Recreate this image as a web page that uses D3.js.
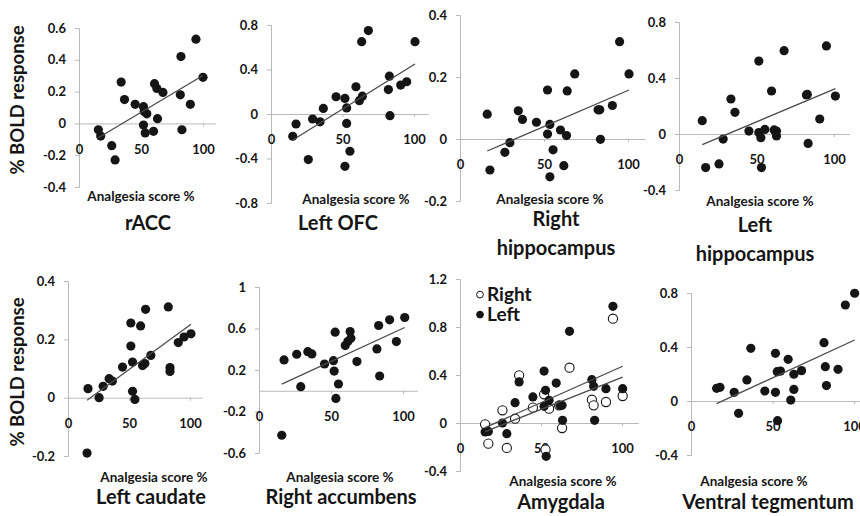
<!DOCTYPE html>
<html>
<head>
<meta charset="utf-8">
<script src="https://cdn.jsdelivr.net/npm/d3@7"></script>
<style>
  body { margin: 0; background: #fff; }
  svg { font-family: Lato, "Open Sans", sans-serif; font-weight: bold; }
</style>
</head>
<body>
<svg id="chart" width="860" height="516"></svg>
<script>
(function() {

  // x values: analgesia score %, y values: % BOLD response
  var xTicks = [0, 50, 100];

  var raccTicks = [-0.4, -0.2, 0, 0.2, 0.4, 0.6];
  var raccData = [[15.6,-0.04],[17.5,-0.08],[26.4,-0.14],[29.1,-0.23],[34,0.26],[36.7,0.15],[45.3,0.12],
    [52,0.105],[52.6,0.075],[54.7,0.06],[52,-0.01],[53.4,-0.06],[60.1,-0.05],[60.9,0.25],[62.8,0.22],
    [67.7,0.195],[63.3,0.03],[81.7,0.18],[82.2,0.42],[83,-0.04],[89.8,0.12],[94.3,0.53],[100,0.29]];

  var ofcTicks = [-0.8, -0.4, 0, 0.4, 0.8];
  var ofcData = [[15.2,-0.2],[17.5,-0.09],[26.1,-0.41],[29.1,-0.045],[34.3,-0.07],[36.6,0.05],[45.5,0.155],
    [51.7,0.14],[52.9,0.055],[52.9,-0.085],[51.7,-0.47],[55.2,-0.335],[59.4,0.245],[61.8,0.12],[63.4,0.65],
    [63.9,0.16],[68.1,0.75],[82.1,0.22],[82.8,0.34],[83.2,-0.015],[90.7,0.26],[94.9,0.29],[100.7,0.65]];

  var rHippoTicks = [-0.2, 0, 0.2, 0.4];
  var rHippoData = [[16.2,0.08],[17.8,-0.1],[26.7,-0.043],[29.7,-0.012],[34.7,0.091],[37.2,0.063],[45.5,0.054],
    [52.1,0.158],[52.1,0.016],[53.5,0.047],[53.5,-0.122],[55.4,-0.035],[59.8,0.029],[61.8,-0.086],[63.4,0.011],
    [63.8,0.155],[68.3,0.21],[82.2,0.094],[83.2,0.094],[83.6,-0.001],[90.7,0.108],[95,0.314],[100.6,0.21]];

  var lHippoTicks = [-0.4, 0, 0.4, 0.8];
  var lHippoData = [[15,0.095],[17.2,-0.24],[25.8,-0.214],[28.5,-0.036],[33.5,0.25],[36.1,0.155],[45.1,0.021],
    [51.5,0.521],[51.5,0.01],[52.8,-0.026],[53.2,-0.24],[55.4,0.033],[59.7,0.307],[61.4,0.029],[62.9,0.021],
    [62.9,-0.014],[67.8,0.595],[82.2,0.279],[82.8,0.283],[83.3,-0.067],[90.8,0.107],[95.1,0.629],[100.9,0.271]];

  var caudateTicks = [-0.2, 0, 0.2, 0.4];
  var caudateData = [[16.4,0.031],[15.6,-0.19],[25.5,0],[28.8,0.039],[33.7,0.065],[36.4,0.057],[44.7,0.105],
    [51.5,0.256],[51.5,0.177],[52.9,0.122],[52.9,0.022],[54.8,-0.006],[59.5,0.246],[61.1,0.11],[63,0.117],
    [63.6,0.303],[67.9,0.145],[82.2,0.311],[83.6,0.09],[83.6,0.103],[90.4,0.189],[95.1,0.208],[100.8,0.219]];

  var accTicks = [-0.6, -0.2, 0.2, 0.6, 1];
  var accData = [[17.4,0.297],[15.8,-0.429],[26.2,0.352],[29,0.039],[33.9,0.377],[36.7,0.355],[45.5,0.258],
    [51.7,0.29],[52.2,0.19],[52.9,0.565],[55.2,0.065],[53.4,-0.074],[59.9,0.435],[61.7,0.474],[63.3,0.571],
    [63.8,0.506],[68,0.281],[81.9,0.403],[83.1,0.629],[83.8,0.142],[90.7,0.684],[95.4,0.474],[101.2,0.706]];

  var amygTicks = [-0.4, 0, 0.4, 0.8, 1.2];
  var amygSeries = ["Right", "Left"];
  var amygRight = [[15.5,-0.011],[17.5,-0.172],[26.2,0.106],[28.9,-0.208],[34,0.036],[36.5,0.397],[45,0.128],
    [51.9,0.239],[52.8,-0.222],[55,0.119],[61.2,0.147],[63,-0.042],[67.6,0.461],[81.4,0.194],[82.5,0.147],
    [90.1,0.175],[94.4,0.869],[100.4,0.225]];
  var amygLeft = [[15.5,-0.075],[17.5,-0.07],[26.2,0],[28.9,-0.089],[34,0.169],[36.5,0.342],[45,0.217],
    [51.9,0.433],[52.8,0.272],[51.9,0.139],[55,0.189],[53.2,-0.278],[59.4,0.333],[61.8,0.147],[63,0.147],
    [63.3,0.022],[67.6,0.764],[81.4,0.361],[82.5,0.306],[83.1,0.022],[90.1,0.286],[94.4,0.972],[100.4,0.286]];

  var vtaTicks = [-0.4, 0, 0.4, 0.8];
  var vtaData = [[15.7,0.094],[17.8,0.101],[26.5,0.064],[29.2,-0.091],[34.3,0.156],[36.7,0.39],[45.3,0.074],
    [51.8,0.353],[51.8,0.064],[52.9,0.217],[54.9,0.222],[53.1,-0.146],[59.6,0.309],[61.2,0.007],[63.1,0.198],
    [63.1,0.086],[67.8,0.225],[81.6,0.432],[82.4,0.254],[83.1,0.114],[90.2,0.235],[94.7,0.711],[100.4,0.798]];

  var xLabel = "Analgesia score %";
  var yLabel = "% BOLD response";

  // layout of each small chart, in pixels
  var panels = [
    { title: ["rACC"], series: [raccData], ticks: raccTicks, x0: 79, x100: 203, top: 28, bottom: 187,
      tx: 148, ty: 230, lx: 141, ly: 201, yTitle: 100 },
    { title: ["Left OFC"], series: [ofcData], ticks: ofcTicks, x0: 271, x100: 414, top: 25, bottom: 203,
      tx: 338, ty: 230, lx: 356, ly: 204 },
    { title: ["Right", "hippocampus"], series: [rHippoData], ticks: rHippoTicks, x0: 460, x100: 628, top: 15, bottom: 201,
      tx: 556, ty: 226, lx: 550, ly: 204 },
    { title: ["Left", "hippocampus"], series: [lHippoData], ticks: lHippoTicks, x0: 679, x100: 834, top: 22, bottom: 190,
      tx: 755, ty: 232, lx: 760, ly: 206 },
    { title: ["Left caudate"], series: [caudateData], ticks: caudateTicks, x0: 68, x100: 190, top: 281, bottom: 456,
      tx: 151, ty: 504, lx: 154, ly: 482, yTitle: 372 },
    { title: ["Right accumbens"], series: [accData], ticks: accTicks, x0: 259, x100: 403, top: 287, bottom: 453,
      tx: 341, ty: 504, lx: 340, ly: 482 },
    { title: ["Amygdala"], series: [amygRight, amygLeft], names: amygSeries, ticks: amygTicks, x0: 460, x100: 622,
      top: 279, bottom: 471, tx: 561, ty: 509, lx: 563, ly: 486 },
    { title: ["Ventral tegmentum"], series: [vtaData], ticks: vtaTicks, x0: 691, x100: 854, top: 293, bottom: 455,
      tx: 768, ty: 509, lx: 754, ly: 486 }
  ];

  var axisColor = "#b9b9b9",
      ink = "#151515";

  var fmt = function(d) { return String(+d.toFixed(1)); };

  function trend(pts) {
    var mx = d3.mean(pts, function(d) { return d[0]; }),
        my = d3.mean(pts, function(d) { return d[1]; });
    var sxy = d3.sum(pts, function(d) { return (d[0] - mx) * (d[1] - my); }),
        sxx = d3.sum(pts, function(d) { return (d[0] - mx) * (d[0] - mx); });
    var b = sxy / sxx, a = my - b * mx;
    return d3.extent(pts, function(d) { return d[0]; }).map(function(x) { return [x, a + b * x]; });
  }

  var svg = d3.select('#chart');

  panels.forEach(function(p) {
    var xScale = d3.scaleLinear()
        .domain([0, 110])
        .range([p.x0, p.x0 + 1.1 * (p.x100 - p.x0)]);

    var yScale = d3.scaleLinear()
        .domain(d3.extent(p.ticks))
        .range([p.bottom, p.top]);

    var g = svg.append('g');

    // y axis
    var yAxis = g.append('g')
        .attr('transform', 'translate(' + p.x0 + ',0)')
        .call(d3.axisLeft(yScale)
          .tickValues(p.ticks)
          .tickSize(4)
          .tickPadding(9)
          .tickFormat(fmt));

    // x axis at zero
    var xAxis = g.append('g')
        .attr('transform', 'translate(0,' + yScale(0) + ')')
        .call(d3.axisBottom(xScale)
          .tickValues(xTicks)
          .tickSize(3)
          .tickSizeOuter(0)
          .tickPadding(18)
          .tickFormat(fmt));

    g.selectAll('.domain, .tick line').attr('stroke', axisColor);
    g.selectAll('.tick text')
        .attr('fill', ink)
        .attr('font-size', 13)
        .attr('font-family', 'Lato')
        .attr('font-weight', 'bold');
    yAxis.attr('font-size', null).attr('font-family', null);
    xAxis.attr('font-size', null).attr('font-family', null);

    // dots, open series drawn first
    p.series.forEach(function(pts, i) {
      var open = p.series.length > 1 && i === 0;
      g.append('g').selectAll('circle')
          .data(pts)
        .enter().append('circle')
          .attr('cx', function(d) { return xScale(d[0]); })
          .attr('cy', function(d) { return yScale(d[1]); })
          .attr('r', 4.6)
          .attr('fill', open ? '#fff' : ink)
          .attr('stroke', ink)
          .attr('stroke-width', open ? 1.1 : 0);
    });

    p.series.forEach(function(pts) {
      g.append('path')
          .attr('d', d3.line()
            .x(function(d) { return xScale(d[0]); })
            .y(function(d) { return yScale(d[1]); })(trend(pts)))
          .attr('stroke', '#4a4a4a')
          .attr('stroke-width', 1.3)
          .attr('fill', 'none');
    });

    // legend
    if (p.names) {
      var lg = g.append('g').selectAll('g')
          .data(p.names)
        .enter().append('g')
          .attr('transform', function(d, i) { return 'translate(' + (p.x0 + 20) + ',' + (yScale(1.07) + i * 20) + ')'; });
      lg.append('circle')
          .attr('r', 3.4)
          .attr('fill', function(d, i) { return i === 0 ? '#fff' : ink; })
          .attr('stroke', ink)
          .attr('stroke-width', 1);
      lg.append('text')
          .attr('x', 7)
          .attr('dy', '0.36em')
          .attr('font-size', 19)
          .attr('fill', ink)
          .text(function(d) { return d; });
    }

    g.append('text')
        .attr('x', p.lx)
        .attr('y', p.ly)
        .attr('text-anchor', 'middle')
        .attr('font-size', 13.5)
        .attr('fill', ink)
        .text(xLabel);

    g.append('g').selectAll('text')
        .data(p.title)
      .enter().append('text')
        .attr('x', p.tx)
        .attr('y', function(d, i) { return p.ty + i * 29; })
        .attr('text-anchor', 'middle')
        .attr('font-size', 20)
        .attr('fill', ink)
        .text(function(d) { return d; });

    if (p.yTitle) {
      g.append('text')
          .attr('transform', 'translate(24,' + p.yTitle + ') rotate(-90)')
          .attr('text-anchor', 'middle')
          .attr('font-size', 18.5)
          .attr('fill', ink)
          .text(yLabel);
    }
  });

})()
</script>
</body>
</html>
